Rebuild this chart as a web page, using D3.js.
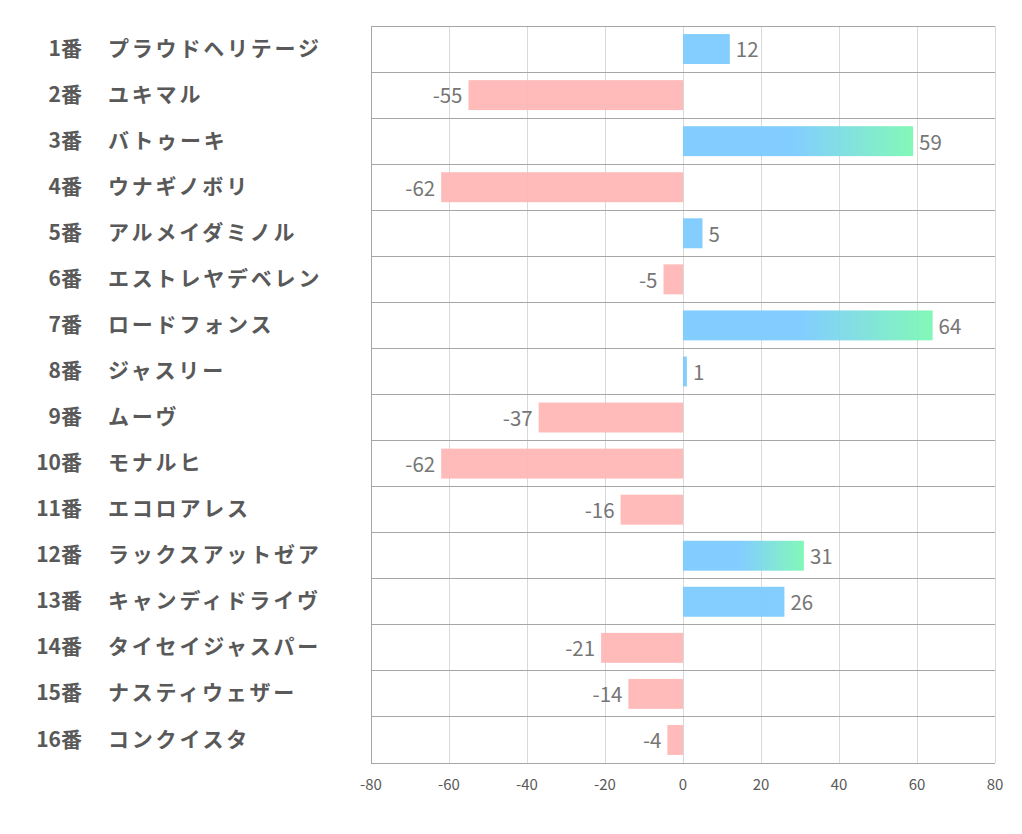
<!DOCTYPE html>
<html><head><meta charset="utf-8">
<script src="https://cdn.jsdelivr.net/npm/d3@7"></script>
<style>body{margin:0;background:#fff;}</style>
</head><body>
<svg id="c" width="1022" height="834"></svg>
<script>
const numbers = ["1番","2番","3番","4番","5番","6番","7番","8番","9番","10番","11番","12番","13番","14番","15番","16番"];
const names = ["プラウドヘリテージ","ユキマル","バトゥーキ","ウナギノボリ","アルメイダミノル","エストレヤデベレン","ロードフォンス","ジャスリー","ムーヴ","モナルヒ","エコロアレス","ラックスアットゼア","キャンディドライヴ","タイセイジャスパー","ナスティウェザー","コンクイスタ"];
const values = [12,-55,59,-62,5,-5,64,1,-37,-62,-16,31,26,-21,-14,-4];
const ticks = [-80,-60,-40,-20,0,20,40,60,80];

(function(){
const svg = d3.select("#c");
const pL = 371, pR = 995, pT = 26, pB = 763;
const x = d3.scaleLinear().domain([-80,80]).range([pL,pR]);
const y = d3.scaleBand().domain(d3.range(values.length)).range([pT,pB]).paddingInner(0.35).paddingOuter(0.175);
const step = y.step();
const font = "'Noto Sans CJK JP','Noto Sans',sans-serif";

const defs = svg.append("defs");
values.forEach((v,i)=>{
  if (v >= 30) {
    const g = defs.append("linearGradient").attr("id","g"+i)
      .attr("gradientUnits","userSpaceOnUse")
      .attr("x1",x(0)).attr("x2",x(v)).attr("y1",0).attr("y2",0);
    g.append("stop").attr("offset","0.48").attr("stop-color","#7ccbff");
    g.append("stop").attr("offset","1").attr("stop-color","#7cf8b4");
  }
});

svg.append("g").selectAll("line").data(ticks).join("line")
  .attr("x1",d=>x(d)).attr("x2",d=>x(d)).attr("y1",pT).attr("y2",pB)
  .attr("stroke",d=>d===-80?"#a6a6a6":"#d9d9d9").attr("stroke-width",1)
  .attr("shape-rendering","crispEdges");
svg.append("g").selectAll("line").data(d3.range(values.length+1)).join("line")
  .attr("x1",pL).attr("x2",pR)
  .attr("y1",d=>pT+d*step).attr("y2",d=>pT+d*step)
  .attr("stroke","#a6a6a6").attr("stroke-width",1).attr("shape-rendering","crispEdges");

svg.append("g").selectAll("rect").data(values).join("rect")
  .attr("x",d=>x(Math.min(0,d))).attr("width",d=>Math.abs(x(d)-x(0)))
  .attr("y",(d,i)=>y(i)).attr("height",y.bandwidth())
  .attr("fill",(d,i)=>d>=30?`url(#g${i})`:(d>=0?"#7ccbff":"#ffb6b6"))
  .attr("opacity",0.95);

svg.append("g").selectAll("text").data(values).join("text")
  .attr("x",d=>d>=0?x(d)+6:x(d)-6)
  .attr("y",(d,i)=>y(i)+y.bandwidth()/2+1)
  .attr("dy","0.36em")
  .attr("text-anchor",d=>d>=0?"start":"end")
  .attr("font-family",font).attr("font-size",20.5).attr("fill","#767676")
  .text(d=>d);

const lab = svg.append("g");
lab.selectAll("text.n").data(numbers).join("text").attr("class","n")
  .attr("x",82).attr("y",(d,i)=>pT+i*step+step/2-1).attr("dy","0.36em")
  .attr("text-anchor","end").attr("font-family",font).attr("font-weight","bold")
  .attr("font-size",21).attr("fill","#595959").text(d=>d);
lab.selectAll("text.m").data(names).join("text").attr("class","m")
  .attr("x",108).attr("y",(d,i)=>pT+i*step+step/2-1).attr("dy","0.36em")
  .attr("text-anchor","start").attr("font-family",font).attr("font-weight","bold")
  .attr("font-size",21).attr("letter-spacing",2.8).attr("fill","#595959").text(d=>d);

svg.append("g").selectAll("text").data(ticks).join("text")
  .attr("x",d=>x(d)).attr("y",790).attr("text-anchor","middle")
  .attr("font-family",font).attr("font-size",15).attr("fill","#595959")
  .text(d=>d);
})();
</script>
</body></html>
